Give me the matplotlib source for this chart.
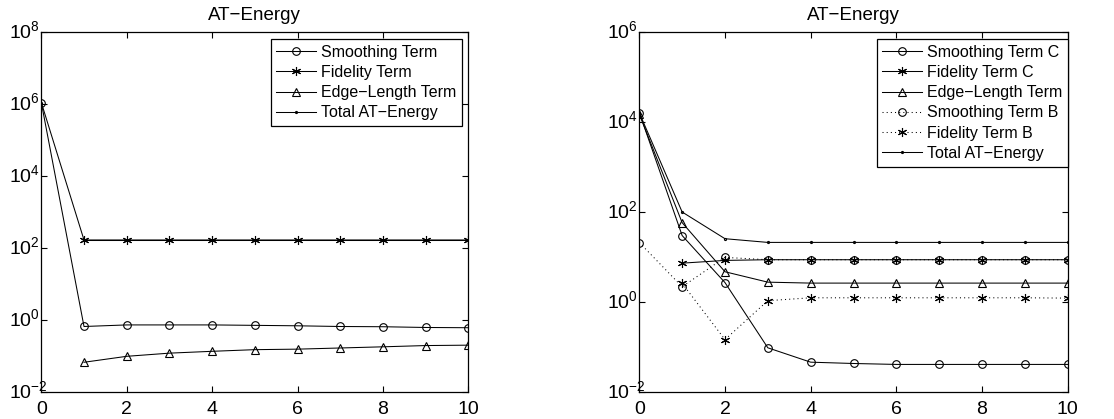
import matplotlib
matplotlib.use("Agg")
import matplotlib.pyplot as plt
import matplotlib.transforms as mtransforms
import numpy as np

plt.rcParams["font.family"] = ["Liberation Sans", "DejaVu Sans"]
plt.rcParams["mathtext.fontset"] = "custom"
plt.rcParams["mathtext.rm"] = "Liberation Sans"
plt.rcParams["mathtext.it"] = "Liberation Sans:italic"
plt.rcParams["mathtext.bf"] = "Liberation Sans:bold"

# Iterations
iters = list(range(11))

# Left panel: single-channel AT-energy terms
left_smoothing = [1.1e6, 0.66, 0.73, 0.73, 0.73, 0.71, 0.69, 0.66, 0.65, 0.62, 0.61]
left_fidelity = [np.nan, 166, 166, 166, 166, 166, 166, 166, 166, 166, 166]
left_edge = [np.nan, 0.067, 0.098, 0.12, 0.135, 0.15, 0.155, 0.167, 0.18, 0.195, 0.20]
left_total = [1.1e6, 167, 167, 167, 167, 167, 167, 167, 167, 167, 167]

# Right panel: two-channel AT-energy terms
smoothing_c = [16200, 30, 2.7, 0.096, 0.046, 0.043, 0.041, 0.041, 0.041, 0.041, 0.041]
fidelity_c = [np.nan, 7.3, 8.4, 8.7, 8.7, 8.7, 8.7, 8.7, 8.7, 8.7, 8.7]
edge_length = [15000, 58, 4.7, 2.76, 2.63, 2.63, 2.63, 2.63, 2.63, 2.63, 2.63]
smoothing_b = [21, 2.18, 9.8, 8.7, 8.7, 8.7, 8.7, 8.7, 8.7, 8.7, 8.7]
fidelity_b = [np.nan, 2.6, 0.146, 1.07, 1.24, 1.24, 1.24, 1.24, 1.24, 1.24, 1.22]
right_total = [16000, 100, 25.5, 21.1, 21.1, 21.1, 21.1, 21.1, 21.1, 21.1, 21.1]

title_text = "AT\u2212Energy"
left_labels = ["Smoothing Term", "Fidelity Term", "Edge\u2212Length Term", "Total AT\u2212Energy"]
right_labels = ["Smoothing Term C", "Fidelity Term C", "Edge\u2212Length Term",
                "Smoothing Term B", "Fidelity Term B", "Total AT\u2212Energy"]

W, H = 1114, 419
fig = plt.figure(figsize=(W / 100, H / 100), dpi=100)

def px_axes(x0, x1, ytop, ybot):
    return fig.add_axes([x0 / W, (H - ybot) / H, (x1 - x0) / W, (ybot - ytop) / H])

ax1 = px_axes(41.3, 468.3, 32, 392)
ax2 = px_axes(639.3, 1067.7, 32, 392)

star = (6, 2, 0)
lw = 0.75
ms_circ = 5.5
ms_tri = 6
ms_star = 6.5
dotted = (0, (1, 3))

common = dict(color="black", linewidth=lw, markerfacecolor="none", markeredgecolor="black",
              markeredgewidth=0.8)

# Left panel
ax1.plot(iters, left_smoothing, marker="o", markersize=ms_circ, label=left_labels[0], **common)
ax1.plot(iters, left_fidelity, marker=star, markersize=ms_star, label=left_labels[1], **common)
ax1.plot(iters, left_edge, marker="^", markersize=ms_tri, label=left_labels[2], **common)
ax1.plot(iters, left_total, marker=".", markersize=3, label=left_labels[3], **common)

# Right panel
ax2.plot(iters, smoothing_c, marker="o", markersize=ms_circ, label=right_labels[0], **common)
ax2.plot(iters, fidelity_c, marker=star, markersize=ms_star, label=right_labels[1], **common)
ax2.plot(iters, edge_length, marker="^", markersize=ms_tri, label=right_labels[2], **common)
ax2.plot(iters, smoothing_b, marker="o", markersize=ms_circ, linestyle=dotted,
         label=right_labels[3], **common)
ax2.plot(iters, fidelity_b, marker=star, markersize=ms_star, linestyle=dotted,
         label=right_labels[4], **common)
ax2.plot(iters, right_total, marker=".", markersize=3, label=right_labels[5], **common)

# y labels start a fixed distance left of the axis, exponents run toward it
ylabel_pad_px = 32.0
lift = mtransforms.ScaledTranslation(0, 2.5 / 100, fig.dpi_scale_trans)
for ax, ymax in ((ax1, 1e8), (ax2, 1e6)):
    ax.set_yscale("log")
    ax.set_xlim(0, 10)
    ax.set_ylim(1e-2, ymax)
    ax.set_xticks(range(0, 11, 2))
    exps = range(-2, int(round(np.log10(ymax))) + 1, 2)
    ax.set_yticks([10.0 ** e for e in exps])
    ax.set_yticklabels([r"$10^{%d}$" % e for e in exps])
    ax.minorticks_off()
    ax.tick_params(direction="in", top=True, right=True, length=4, width=0.8,
                   labelsize=14, colors="black")
    ax.tick_params(axis="x", pad=6.5)
    ax.tick_params(axis="y", pad=ylabel_pad_px * 72 / 100)
    for lab in ax.get_yticklabels():
        lab.set_horizontalalignment("left")
        lab.set_transform(lab.get_transform() + lift)
    for s in ax.spines.values():
        s.set_linewidth(0.9)
    ax.set_title(title_text, fontsize=13.5, pad=9)

leg_kw = dict(loc="upper right", fontsize=11.5, frameon=True, fancybox=False,
              edgecolor="black", framealpha=1, borderpad=0.35, labelspacing=0.33,
              handlelength=2.5, handletextpad=0.3, borderaxespad=0, numpoints=1)
l1 = ax1.legend(bbox_to_anchor=(0.985, 0.9806), **leg_kw)
l2 = ax2.legend(bbox_to_anchor=(1.0007, 0.9806), **leg_kw)
for leg in (l1, l2):
    leg.get_frame().set_linewidth(0.9)

fig.savefig("out.png", dpi=100)
